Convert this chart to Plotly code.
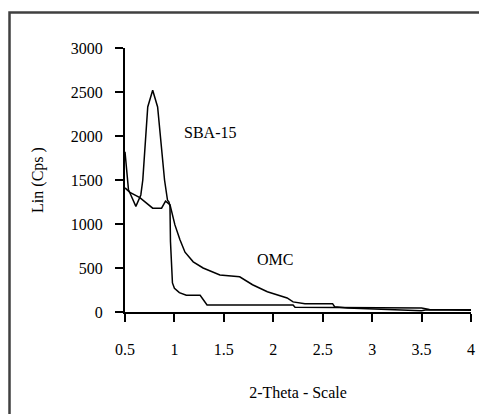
import plotly.graph_objects as go

# SBA-15 diffractogram (2-theta, counts)
sba_x = [0.5, 0.51, 0.53, 0.535, 0.61, 0.66, 0.68, 0.73, 0.78, 0.83, 0.90, 0.92, 0.93,
         0.945, 0.955, 0.96, 0.97, 0.98, 1.0, 1.05, 1.12, 1.26, 1.33, 2.2, 2.22, 3.5, 3.58, 4.0]
sba_y = [1820, 1700, 1500, 1390, 1200, 1330, 1500, 2330, 2520, 2330, 1500, 1330, 1270,
         1250, 1200, 800, 450, 330, 270, 220, 190, 190, 80, 80, 55, 45, 28, 25]

# OMC diffractogram
omc_x = [0.5, 0.55, 0.65, 0.78, 0.87, 0.91, 0.955, 0.975, 1.005, 1.056, 1.107, 1.19, 1.29,
         1.46, 1.66, 1.79, 1.94, 2.14, 2.2, 2.32, 2.6, 2.62, 2.75, 3.5, 3.55, 4.0]
omc_y = [1410, 1360, 1300, 1180, 1180, 1260, 1220, 1120, 990, 820, 680, 570, 500,
         420, 400, 310, 230, 160, 115, 95, 95, 60, 45, 15, 25, 20]

x_ticks = [0.5, 1, 1.5, 2, 2.5, 3, 3.5, 4]
x_ticktext = ["0.5", "1", "1.5", "2", "2.5", "3", "3.5", "4"]
y_ticks = [0, 500, 1000, 1500, 2000, 2500, 3000]

FONT = dict(family="Liberation Serif", size=16, color="black")

fig = go.Figure()
fig.add_trace(go.Scatter(x=sba_x, y=sba_y, mode="lines", name="SBA-15",
                         line=dict(color="black", width=1.5), showlegend=False))
fig.add_trace(go.Scatter(x=omc_x, y=omc_y, mode="lines", name="OMC",
                         line=dict(color="black", width=1.5), showlegend=False))

fig.add_annotation(x=1.36, y=2045, text="SBA-15", showarrow=False, font=FONT)
fig.add_annotation(x=2.02, y=591, text="OMC", showarrow=False, font=FONT)

# outer frame (cropped on the right and bottom)
fig.add_shape(type="rect", xref="paper", yref="paper",
              x0=-0.3338, x1=1.12, y0=-0.45, y1=1.1345,
              line=dict(color="#404040", width=2.5), fillcolor="rgba(0,0,0,0)")

fig.update_layout(
    width=479, height=406,
    margin=dict(l=117, r=16, t=40, b=102),
    paper_bgcolor="white", plot_bgcolor="white",
    font=FONT,
    xaxis=dict(range=[0.5, 4.0], tickvals=x_ticks, ticktext=x_ticktext,
               ticks="outside", ticklen=8, tickwidth=2, tickcolor="black",
               showline=True, linecolor="black", linewidth=2,
               showgrid=False, zeroline=False, ticklabelstandoff=14,
               title=dict(text="2-Theta - Scale", standoff=30, font=FONT)),
    yaxis=dict(range=[0, 3000], tickvals=y_ticks,
               ticks="outside", ticklen=8, tickwidth=2, tickcolor="black",
               showline=True, linecolor="black", linewidth=2,
               showgrid=False, zeroline=False, ticklabelstandoff=9,
               title=dict(text="Lin (Cps )", standoff=23, font=FONT)),
)

fig.write_html("out.html")
